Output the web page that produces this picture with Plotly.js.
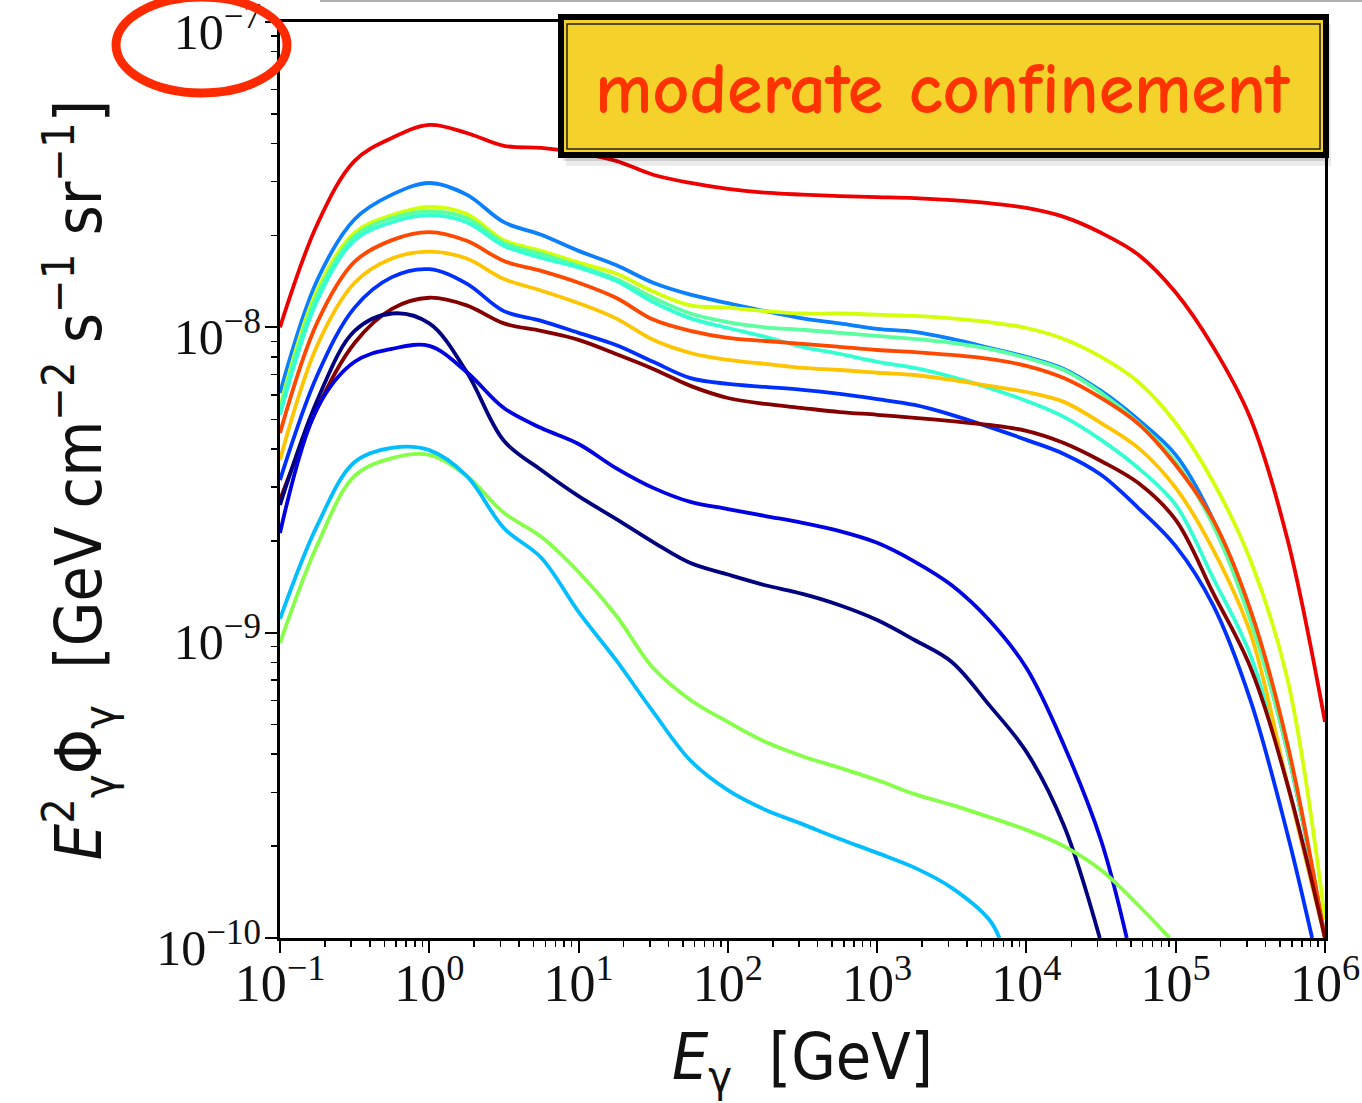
<!DOCTYPE html>
<html>
<head>
<meta charset="utf-8">
<script src="https://cdn.plot.ly/plotly-3.0.1.min.js"></script>
<style>
  html, body { margin: 0; padding: 0; background: #ffffff; }
  #chart { width: 1362px; height: 1103px; }
</style>
</head>
<body>
<div id="chart"></div>
<script>
// Photon energy grid in GeV (quarter-decade steps)
const energy = [0.1, 0.178, 0.316, 0.562, 1, 1.78, 3.16, 5.62, 10, 17.8, 31.6, 56.2, 100, 178, 316,
                562, 1000, 1780, 3160, 5620, 1e4, 1.78e4, 3.16e4, 5.62e4, 1e5, 1.78e5, 3.16e5, 5.62e5, 1e6];

// E^2 Phi spectra in GeV cm^-2 s^-1 sr^-1, one per source model
const fluxRed = [1.00e-8, 2.18e-8, 3.51e-8, 4.17e-8, 4.60e-8, 4.33e-8, 3.93e-8, 3.87e-8, 3.73e-8, 3.51e-8,
                 3.16e-8, 2.97e-8, 2.84e-8, 2.76e-8, 2.72e-8, 2.69e-8, 2.67e-8, 2.65e-8, 2.61e-8, 2.55e-8,
                 2.46e-8, 2.30e-8, 2.04e-8, 1.73e-8, 1.30e-8, 8.63e-9, 5.05e-9, 2.01e-9, 5.10e-10];
const fluxAzure = [6.10e-9, 1.43e-8, 2.26e-8, 2.72e-8, 2.97e-8, 2.72e-8, 2.21e-8, 2.01e-8, 1.78e-8, 1.60e-8,
                   1.40e-8, 1.28e-8, 1.20e-8, 1.13e-8, 1.07e-8, 1.03e-8, 9.89e-9, 9.66e-9, 9.16e-9, 8.57e-9,
                   8.00e-9, 7.31e-9, 6.19e-9, 4.98e-9, 3.82e-9, 2.34e-9, 1.12e-9, 4.07e-10, 1.0e-10];
const fluxLime = [5.48e-9, 1.33e-8, 2.04e-8, 2.33e-8, 2.48e-8, 2.35e-8, 1.93e-8, 1.78e-8, 1.63e-8, 1.50e-8,
                  1.31e-8, 1.18e-8, 1.16e-8, 1.13e-8, 1.11e-8, 1.11e-8, 1.10e-8, 1.09e-8, 1.07e-8, 1.04e-8,
                  9.95e-9, 9.16e-9, 8.00e-9, 6.62e-9, 4.86e-9, 3.12e-9, 1.73e-9, 7.00e-10, 1.15e-10];
const fluxMint = [5.36e-9, 1.28e-8, 1.99e-8, 2.28e-8, 2.40e-8, 2.28e-8, 1.89e-8, 1.74e-8, 1.59e-8, 1.44e-8,
                  1.25e-8, 1.11e-8, 1.04e-8, 1.00e-8, 9.82e-9, 9.59e-9, 9.37e-9, 9.16e-9, 8.89e-9, 8.50e-9,
                  7.94e-9, 7.25e-9, 6.10e-9, 4.86e-9, 3.62e-9, 2.25e-9, 1.10e-9, 4.07e-10, 1.0e-10];
const fluxAqua = [5.17e-9, 1.23e-8, 1.93e-8, 2.21e-8, 2.33e-8, 2.21e-8, 1.85e-8, 1.69e-8, 1.57e-8, 1.42e-8,
                  1.21e-8, 1.07e-8, 9.95e-9, 9.31e-9, 8.63e-9, 8.18e-9, 7.71e-9, 7.36e-9, 6.88e-9, 6.33e-9,
                  5.74e-9, 5.09e-9, 4.28e-9, 3.46e-9, 2.62e-9, 1.51e-9, 8.45e-10, 3.17e-10, 1.0e-10];
const fluxOrange = [4.51e-9, 1.04e-8, 1.64e-8, 1.93e-8, 2.05e-8, 1.92e-8, 1.65e-8, 1.53e-8, 1.40e-8, 1.25e-8,
                    1.06e-8, 9.73e-9, 9.23e-9, 9.02e-9, 8.83e-9, 8.63e-9, 8.43e-9, 8.30e-9, 8.12e-9, 7.88e-9,
                    7.48e-9, 6.82e-9, 5.87e-9, 4.83e-9, 3.54e-9, 2.34e-9, 1.19e-9, 4.29e-10, 1.0e-10];
const fluxAmber = [3.68e-9, 8.75e-9, 1.40e-8, 1.68e-8, 1.77e-8, 1.68e-8, 1.44e-8, 1.32e-8, 1.20e-8, 1.07e-8,
                   9.10e-9, 8.24e-9, 7.82e-9, 7.59e-9, 7.36e-9, 7.25e-9, 7.10e-9, 6.98e-9, 6.73e-9, 6.43e-9,
                   6.14e-9, 5.70e-9, 4.86e-9, 4.03e-9, 2.98e-9, 1.87e-9, 9.98e-10, 3.17e-10, 1.0e-10];
const fluxMaroon = [2.72e-9, 5.44e-9, 8.89e-9, 1.15e-8, 1.25e-8, 1.18e-8, 1.03e-8, 9.73e-9, 9.10e-9, 8.18e-9,
                    7.31e-9, 6.43e-9, 5.87e-9, 5.61e-9, 5.44e-9, 5.28e-9, 5.17e-9, 5.05e-9, 4.93e-9, 4.79e-9,
                    4.58e-9, 4.18e-9, 3.65e-9, 3.09e-9, 2.34e-9, 1.35e-9, 7.72e-10, 3.17e-10, 1.0e-10];

const energyBlue = [0.1, 0.178, 0.316, 0.562, 1, 1.78, 3.16, 5.62, 10, 17.8, 31.6, 56.2, 100, 178, 316,
                    562, 1000, 1780, 3160, 5620, 1e4, 1.78e4, 3.16e4, 5.62e4, 1e5, 1.78e5, 3.16e5, 5.62e5, 8.2e5];
const fluxBlue = [3.16e-9, 6.98e-9, 1.16e-8, 1.46e-8, 1.55e-8, 1.39e-8, 1.13e-8, 1.05e-8, 9.59e-9, 8.75e-9,
                  7.71e-9, 6.82e-9, 6.53e-9, 6.38e-9, 6.24e-9, 6.05e-9, 5.82e-9, 5.57e-9, 5.17e-9, 4.72e-9,
                  4.28e-9, 3.85e-9, 3.29e-9, 2.56e-9, 1.92e-9, 1.23e-9, 6.02e-10, 2.18e-10, 1.0e-10];

const energyNavy = [0.1, 0.178, 0.316, 0.562, 1, 1.78, 3.16, 5.62, 10, 17.8, 31.6, 56.2, 100, 178, 316,
                    562, 1000, 1780, 3160, 5620, 1e4, 1.78e4, 3.1e4];
const fluxNavy = [2.62e-9, 5.78e-9, 9.73e-9, 1.11e-8, 1.03e-8, 7.14e-9, 4.25e-9, 3.41e-9, 2.80e-9, 2.36e-9,
                  1.98e-9, 1.69e-9, 1.55e-9, 1.43e-9, 1.34e-9, 1.23e-9, 1.10e-9, 9.46e-10, 8.02e-10, 5.80e-10,
                  4.07e-10, 2.34e-10, 1.0e-10];

const energyDeepBlue = [0.1, 0.178, 0.316, 0.562, 1, 1.78, 3.16, 5.62, 10, 17.8, 31.6, 56.2, 100, 178, 316,
                        562, 1000, 1780, 3160, 5620, 1e4, 1.78e4, 3.16e4, 4.7e4];
const fluxDeepBlue = [2.12e-9, 5.44e-9, 7.71e-9, 8.50e-9, 8.69e-9, 7.14e-9, 5.44e-9, 4.68e-9, 4.15e-9, 3.46e-9,
                      2.98e-9, 2.68e-9, 2.54e-9, 2.41e-9, 2.29e-9, 2.15e-9, 1.97e-9, 1.71e-9, 1.43e-9, 1.10e-9,
                      7.66e-10, 4.29e-10, 2.09e-10, 1.0e-10];

const energySky = [0.1, 0.178, 0.316, 0.562, 1, 1.78, 3.16, 5.62, 10, 17.8, 31.6, 56.2, 100, 178, 316,
                   562, 1000, 1780, 3160, 5620, 6.6e3];
const fluxSky = [1.11e-9, 2.25e-9, 3.62e-9, 4.03e-9, 3.96e-9, 3.26e-9, 2.20e-9, 1.76e-9, 1.17e-9, 8.14e-10,
                 5.50e-10, 3.81e-10, 3.05e-10, 2.63e-10, 2.36e-10, 2.11e-10, 1.90e-10, 1.70e-10, 1.46e-10,
                 1.15e-10, 1.0e-10];

const energyGreen = [0.1, 0.178, 0.316, 0.562, 1, 1.78, 3.16, 5.62, 10, 17.8, 31.6, 56.2, 100, 178, 316,
                     562, 1000, 1780, 3160, 5620, 1e4, 1.78e4, 3.16e4, 5.62e4, 9.1e4];
const fluxGreen = [9.25e-10, 1.94e-9, 3.26e-9, 3.73e-9, 3.82e-9, 3.26e-9, 2.47e-9, 2.06e-9, 1.58e-9, 1.14e-9,
                   7.66e-10, 6.02e-10, 5.10e-10, 4.39e-10, 3.94e-10, 3.61e-10, 3.29e-10, 2.96e-10, 2.73e-10,
                   2.49e-10, 2.26e-10, 2.00e-10, 1.67e-10, 1.28e-10, 1.0e-10];

// Axis ticks
const xTickVals = [1e-1, 1e0, 1e1, 1e2, 1e3, 1e4, 1e5, 1e6];
const xTickText = ['10<sup>\u22121</sup>', '10<sup>0</sup>', '10<sup>1</sup>', '10<sup>2</sup>',
                   '10<sup>3</sup>', '10<sup>4</sup>', '10<sup>5</sup>', '10<sup>6</sup>'];
const yTickVals = [1e-10, 1e-9, 1e-8, 1e-7];
const yTickText = ['10<sup>\u221210</sup>', '10<sup>\u22129</sup>', '10<sup>\u22128</sup>', '10<sup>\u22127</sup>'];

// minor ticks at 2..9 within each decade
function minorTicks(lo, hi) {
  const out = [];
  for (let p = lo; p < hi; p++) {
    for (let m = 2; m <= 9; m++) out.push(m * Math.pow(10, p));
  }
  return out;
}

const series = [
  { x: energy, y: fluxRed, color: '#EE0000' },
  { x: energy, y: fluxAzure, color: '#0A80FF' },
  { x: energy, y: fluxLime, color: '#D2FF0A' },
  { x: energy, y: fluxMint, color: '#5CFFA0' },
  { x: energy, y: fluxAqua, color: '#33FFD2' },
  { x: energy, y: fluxAmber, color: '#FFC400' },
  { x: energy, y: fluxOrange, color: '#FF4800' },
  { x: energyBlue, y: fluxBlue, color: '#0030FF' },
  { x: energy, y: fluxMaroon, color: '#850000' },
  { x: energyNavy, y: fluxNavy, color: '#000080' },
  { x: energyDeepBlue, y: fluxDeepBlue, color: '#0000E0' },
  { x: energyGreen, y: fluxGreen, color: '#86FF48' },
  { x: energySky, y: fluxSky, color: '#00BEFF' }
];

const traces = series.map(s => ({
  type: 'scatter',
  mode: 'lines',
  x: s.x,
  y: s.y,
  line: { color: s.color, width: 3.8, shape: 'spline', smoothing: 1.0 },
  hoverinfo: 'x+y',
  showlegend: false
}));

const W = 1362, H = 1103;
const M = { l: 280, r: 37, t: 22, b: 165 };
const plotW = W - M.l - M.r, plotH = H - M.t - M.b;
// pixel position -> paper fraction
const px = v => (v - M.l) / plotW;
const py = v => (H - M.b - v) / plotH;

const xTickFont = { family: 'Liberation Serif, DejaVu Serif, serif', size: 52, color: '#111111' };
const yTickFont = { family: 'Liberation Serif, DejaVu Serif, serif', size: 50, color: '#111111' };

const layout = {
  width: W,
  height: H,
  margin: M,
  paper_bgcolor: '#ffffff',
  plot_bgcolor: '#ffffff',
  showlegend: false,
  xaxis: {
    type: 'log',
    range: [-1, 6],
    tickmode: 'array',
    tickvals: xTickVals,
    ticktext: xTickText,
    ticks: 'outside',
    ticklen: 12,
    tickwidth: 2,
    tickcolor: '#000000',
    ticklabeloverflow: 'allow',
    ticklabelstandoff: -14,
    minor: { tickmode: 'array', tickvals: minorTicks(-1, 6), ticks: 'outside', ticklen: 6, tickwidth: 1.5, tickcolor: '#000000', showgrid: false },
    showline: true,
    linecolor: '#000000',
    linewidth: 3,
    mirror: true,
    showgrid: false,
    zeroline: false,
    tickfont: xTickFont,
    title: {
      text: '<i>E</i><sub>\u03b3</sub>  [GeV]',
      font: { family: 'DejaVu Sans Condensed, DejaVu Sans, sans-serif', size: 64, color: '#111111' },
      standoff: 26
    }
  },
  yaxis: {
    type: 'log',
    range: [-10, -7],
    tickmode: 'array',
    tickvals: yTickVals,
    ticktext: yTickText,
    ticks: 'outside',
    ticklen: 12,
    tickwidth: 2,
    tickcolor: '#000000',
    ticklabeloverflow: 'allow',
    ticklabelstandoff: -6,
    ticklabelshift: 9,
    minor: { tickmode: 'array', tickvals: minorTicks(-10, -7), ticks: 'outside', ticklen: 6, tickwidth: 1.5, tickcolor: '#000000', showgrid: false },
    showline: true,
    linecolor: '#000000',
    linewidth: 3,
    mirror: true,
    showgrid: false,
    zeroline: false,
    tickfont: yTickFont,
    title: {
      text: '<i>E</i><sup>2</sup><sub>\u03b3</sub>\u03a6<sub>\u03b3</sub>  [GeV cm<sup>\u22122</sup> s<sup>\u22121</sup> sr<sup>\u22121</sup>]',
      font: { family: 'DejaVu Sans Condensed, DejaVu Sans, sans-serif', size: 64, color: '#111111' },
      standoff: 34
    }
  },
  shapes: [
    // thin rule across the top of the page
    { type: 'line', xref: 'paper', yref: 'paper', x0: px(320), x1: px(1362), y0: py(1), y1: py(1),
      line: { color: '#B0B0B0', width: 2 }, layer: 'above' },
    // soft shadow under the label box
    { type: 'rect', xref: 'paper', yref: 'paper', x0: px(566), x1: px(1331), y0: py(24), y1: py(166),
      fillcolor: 'rgba(0,0,0,0.08)', line: { width: 0 }, layer: 'above' },
    { type: 'rect', xref: 'paper', yref: 'paper', x0: px(563), x1: px(1329), y0: py(20), y1: py(161),
      fillcolor: 'rgba(0,0,0,0.12)', line: { width: 0 }, layer: 'above' },
    // label box
    { type: 'rect', xref: 'paper', yref: 'paper', x0: px(561), x1: px(1326), y0: py(17), y1: py(155),
      fillcolor: '#F5D12C', line: { color: '#000000', width: 6 }, layer: 'above' },
    { type: 'rect', xref: 'paper', yref: 'paper', x0: px(567), x1: px(1320), y0: py(24), y1: py(149),
      fillcolor: 'rgba(0,0,0,0)', line: { color: '#222222', width: 1.5 }, layer: 'above' },
    // red marker ring round the top tick label
    { type: 'circle', xref: 'paper', yref: 'paper', x0: px(116), x1: px(287), y0: py(93), y1: py(-3),
      line: { color: '#FF2A00', width: 9 }, fillcolor: 'rgba(0,0,0,0)', layer: 'above' }
  ],
  annotations: [
    {
      xref: 'paper', yref: 'paper', x: px(943), y: py(90),
      xanchor: 'center', yanchor: 'middle', showarrow: false,
      text: '<b>moderate confinement</b>',
      font: { family: 'Comic Sans MS, Comic Neue, Lato, sans-serif', size: 72, color: '#FF3300', weight: 700 }
    }
  ]
};

Plotly.newPlot('chart', traces, layout, { displayModeBar: false, staticPlot: true });
</script>
</body>
</html>
